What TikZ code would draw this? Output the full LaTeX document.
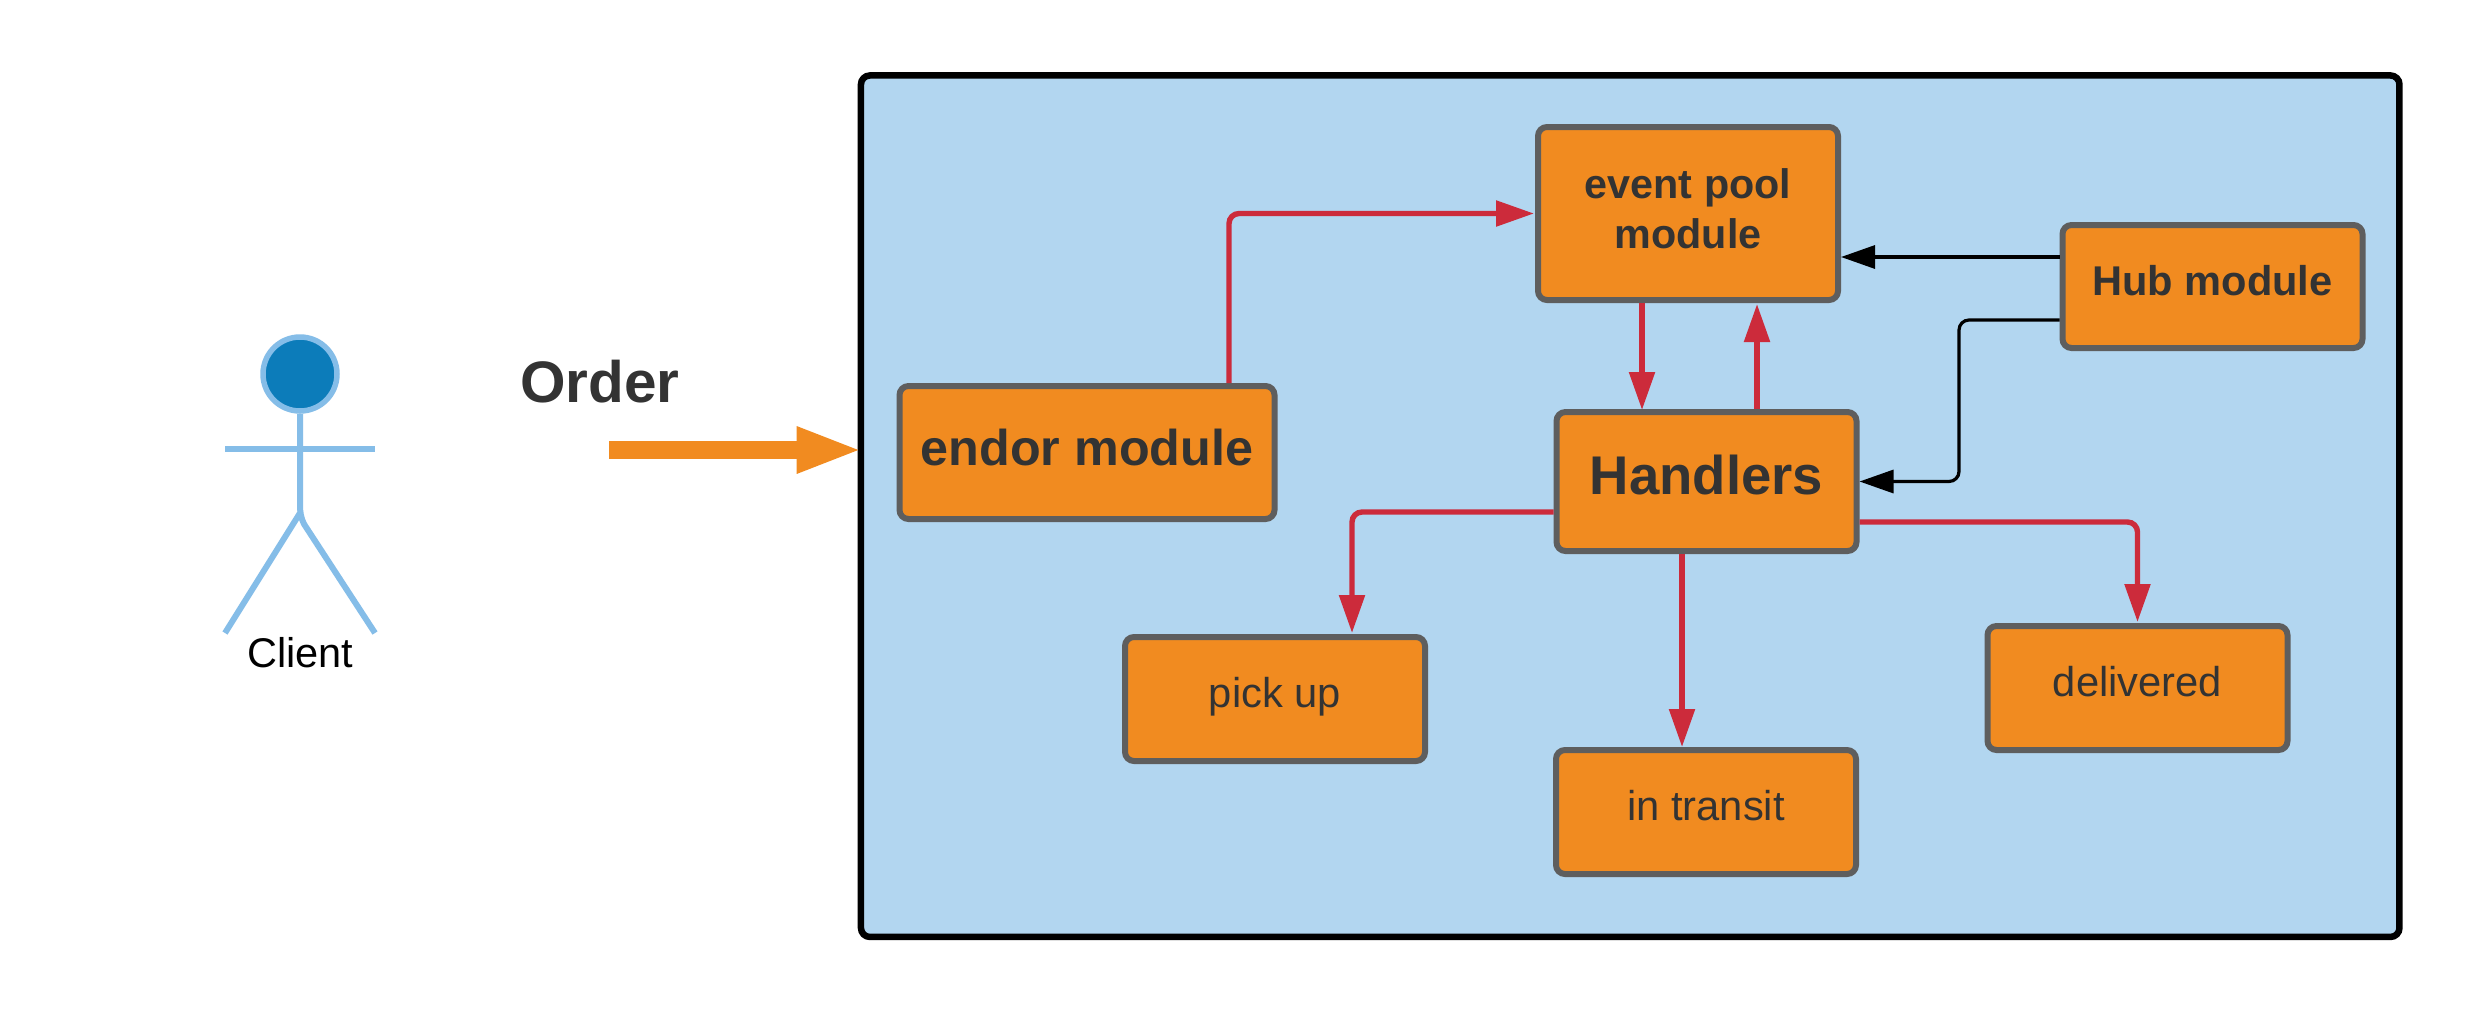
\documentclass[tikz,border=0pt]{standalone}
\usepackage{fontspec}
\setmainfont{Liberation Sans}
\usetikzlibrary{arrows.meta,calc}
\definecolor{boxfill}{HTML}{F18B20}
\definecolor{boxline}{HTML}{5E5E5E}
\definecolor{sysfill}{HTML}{B2D6F0}
\definecolor{redline}{HTML}{CC2B3B}
\definecolor{txt}{HTML}{333333}
\definecolor{actor}{HTML}{85BDE8}
\definecolor{actorhead}{HTML}{0C7CBA}
\tikzset{
  modbox/.style={draw=boxline,fill=boxfill,line width=6pt,rounded corners=9pt,inner sep=0pt,
    minimum width=300pt,text=txt,align=center},
  small/.style={modbox,minimum height=124pt,text height=16pt,text depth=0pt,font=\fontsize{41.7}{50}\selectfont},
  redarrow/.style={draw=redline,line width=5.4pt,rounded corners=10pt,-{Triangle[length=38pt,width=25pt]}},
  blackarrow/.style={draw=black,line width=3.2pt,rounded corners=10pt,-{Triangle[length=34pt,width=23pt]}},
  limb/.style={draw=actor,line width=6pt}
}
\begin{document}
\begin{tikzpicture}[x=1pt,y=-1pt]
\useasboundingbox[fill=white] (0,0) rectangle (2475,1013);
% system box
\node[draw=black,fill=sysfill,line width=6.5pt,rounded corners=9pt,minimum width=1538.5pt,minimum height=861.5pt,inner sep=0pt] (sys) at (1630.2,506.2) {};
% modules
\node[modbox,minimum height=173pt,font=\bfseries\fontsize{41.3}{50}\selectfont] (event) at (1688,213.5) {\raisebox{5.5pt}{\begin{tabular}{@{}c@{}}event pool\\module\end{tabular}}};
\node[modbox,minimum height=123pt,text height=17pt,text depth=0pt,font=\bfseries\fontsize{41.6}{50}\selectfont] (hub) at (2212.5,286.5) {Hub module};
\node[modbox,minimum height=139pt,text height=25pt,text depth=0pt,font=\bfseries\fontsize{54.5}{60}\selectfont] (handlers) at (1706.5,481.5) {Handlers};
\node[modbox,minimum width=375pt,minimum height=133pt,text height=26pt,text depth=0pt,font=\bfseries\fontsize{50.3}{60}\selectfont] (endor) at (1087,452.5) {endor module};
\node[small] (pickup) at (1275,699) {pick up};
\node[small] (transit) at (1706,812) {in transit};
\node[small] (delivered) at (2137.5,688) {delivered};
% connectors
\draw[redarrow] ([xshift=142pt]endor.north) |- ([xshift=-1pt]event.west);
\draw[redarrow] ([xshift=-46pt]event.south) -- ([xshift=-64.5pt,yshift=-1pt]handlers.north);
\draw[redarrow] ([xshift=50.5pt]handlers.north) -- ([xshift=69pt,yshift=-1pt]event.south);
\draw[redarrow] ([yshift=-30.5pt]handlers.west) -| ([xshift=77pt,yshift=1pt]pickup.north);
\draw[redarrow] ([xshift=-24.5pt]handlers.south) -- ([xshift=-24pt]transit.north);
\draw[redarrow] ([yshift=-40.5pt]handlers.east) -| ([yshift=1pt]delivered.north);
\draw[blackarrow] ([yshift=29.5pt]hub.west) -- ([yshift=-43.5pt]event.east);
\coordinate (bend) at (1959,400);
\coordinate (hubout) at ([yshift=-33.5pt]hub.west);
\draw[blackarrow] (hubout) -- (bend |- hubout) -- (bend |- handlers.east) -- (handlers.east);
% order arrow
\coordinate (orderstart) at (609,450);
\draw[draw=boxfill,line width=18pt,-{Triangle[length=66pt,width=42pt]}] (orderstart) -- ([xshift=5pt]orderstart -| sys.west);
\node[anchor=base,text=txt,font=\bfseries\fontsize{58.5}{60}\selectfont,inner sep=0pt] (order) at (600,402.5) {Order};
% actor
\node[circle,draw=actor,fill=actorhead,line width=5.5pt,minimum size=74pt,inner sep=0pt] (head) at (300,374) {};
\coordinate (armL) at (225,449);
\coordinate (armR) at (375,449);
\coordinate (legL) at (225,633);
\coordinate (legR) at (375,633);
\coordinate (hip) at (300,513);
\draw[limb] (armL) -- (armR);
\draw[limb] (head.south) -- (300,505) .. controls (300,512) and (301,518) .. (304,524) -- (legR);
\draw[limb] (hip) -- (legL);
\node[anchor=base,text=black,font=\fontsize{41.5}{50}\selectfont,inner sep=0pt] (client) at (300.5,667) {Client};
\end{tikzpicture}
\end{document}
